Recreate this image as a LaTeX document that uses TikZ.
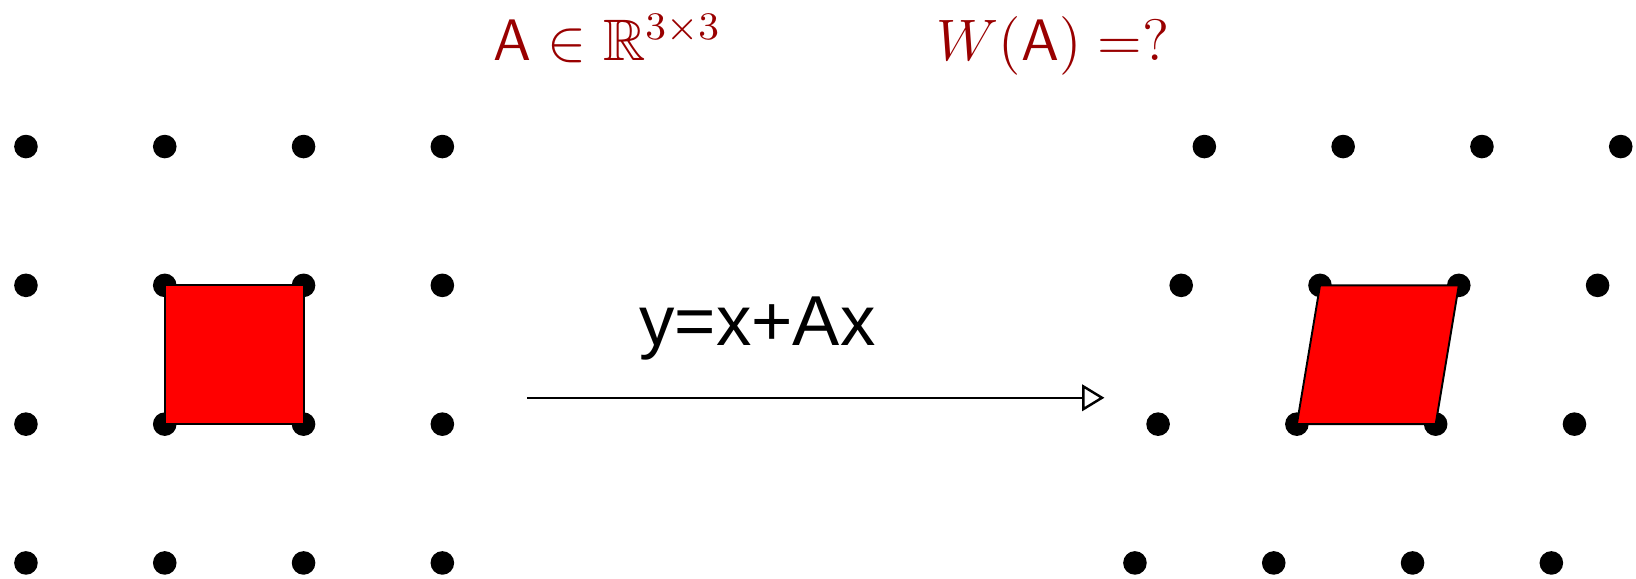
\documentclass[tikz,border=0pt]{standalone}
\usepackage{amsmath}
\usepackage{amssymb}
\usepackage{fontspec}
\newfontfamily\labelfont{Liberation Sans}
\usepackage{tikz}
\usetikzlibrary{arrows.meta, positioning}

\begin{document}
\begin{tikzpicture}[
    dot/.style={
        circle,
        fill=black,
        inner sep=0pt,
        minimum size=0.17cm
    },
    cell/.style={
        fill=red,
        draw=black,
        line width=0.4pt
    },
    title/.style={
        anchor=base,
        text=red!60!black,
        font=\fontsize{12}{14}\selectfont
    },
    arrow/.style={
        -{Triangle[open, length=0.16cm, width=0.19cm]},
        line width=0.5pt
    }
]
\useasboundingbox (-0.187,-0.115) rectangle (11.6,4.056);

% Titles
\node[title] (matrix) at (4.19,3.62) {$\mathsf{A}\in\mathbb{R}^{3\times 3}$};
\node[title] (question) at (7.40,3.62) {$W(\mathsf{A})=?$};

% Left lattice
\foreach \i in {0,...,3}
  \foreach \j in {0,...,3}
    \node[dot] (l-\i-\j) at (\i,\j) {};

% Right lattice (sheared)
\foreach \i in {0,...,3}
  \foreach \j in {0,...,3}
    \node[dot] (r-\i-\j) at ({7.99+\i+\j/6},\j) {};

% Unit cells
\draw[cell] (l-1-1.center) -- (l-2-1.center) -- (l-2-2.center) -- (l-1-2.center) -- cycle;
\draw[cell] (r-1-1.center) -- (r-2-1.center) -- (r-2-2.center) -- (r-1-2.center) -- cycle;

% Map
\coordinate (from) at (3.61,1.19);
\coordinate (to) at (7.77,1.19);
\draw[arrow] (from) -- (to);
\node[font=\labelfont\fontsize{14.5}{16}\selectfont] (map) at (5.27,1.69) {y=x+Ax};

\end{tikzpicture}
\end{document}
